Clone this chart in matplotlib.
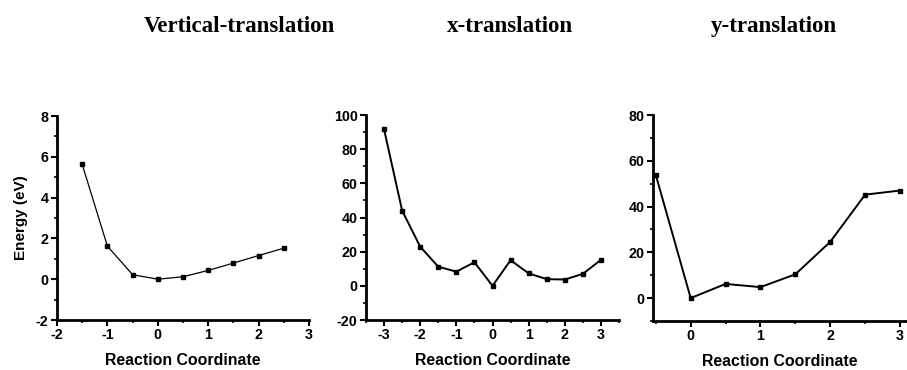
import matplotlib
matplotlib.use("Agg")
import matplotlib.pyplot as plt
from matplotlib.ticker import MultipleLocator

titles = ["Vertical-translation", "x-translation", "y-translation"]

x_vert = [-1.5, -1.0, -0.5, 0.0, 0.5, 1.0, 1.5, 2.0, 2.5]
e_vert = [5.63, 1.62, 0.22, 0.0, 0.12, 0.43, 0.79, 1.16, 1.52]

x_xt = [-3.0, -2.5, -2.0, -1.5, -1.0, -0.5, 0.0, 0.5, 1.0, 1.5, 2.0, 2.5, 3.0]
e_xt = [91.6, 44.0, 22.9, 11.2, 8.3, 13.8, 0.0, 15.0, 7.3, 3.9, 3.7, 7.0, 15.2]

x_yt = [-0.5, 0.0, 0.5, 1.0, 1.5, 2.0, 2.5, 3.0]
e_yt = [53.8, 0.0, 6.2, 4.8, 10.4, 24.6, 45.2, 47.0]

xlabel = "Reaction Coordinate"
ylabel = "Energy (eV)"

W, H = 907, 370
plt.rcParams['font.family'] = ['Liberation Sans', 'DejaVu Sans']
plt.rcParams['axes.unicode_minus'] = False
fig = plt.figure(figsize=(W / 100, H / 100), dpi=100)

def add_ax(x0, x1, y0, y1):
    return fig.add_axes([x0 / W, 1 - y1 / H, (x1 - x0) / W, (y1 - y0) / H])

panels = [
    dict(box=(57, 309, 116, 320), x=x_vert, y=e_vert, xlim=(-2, 3), ylim=(-2, 8),
         ymaj=2, ymin=1, xmaj=1, xmin=0.5, lw=0.9, title_x=239),
    dict(box=(366, 619, 115, 320), x=x_xt, y=e_xt, xlim=(-3.5, 3.5), ylim=(-20, 100),
         ymaj=20, ymin=10, xmaj=1, xmin=0.5, lw=1.4, title_x=510),
    dict(box=(653, 907, 115, 321), x=x_yt, y=e_yt, xlim=(-0.54, 3.1), ylim=(-10, 80),
         ymaj=20, ymin=10, xmaj=1, xmin=0.5, lw=1.4, title_x=774),
]

for i, p in enumerate(panels):
    x0, x1, y0, y1 = p['box']
    ax = add_ax(x0, x1, y0, y1)
    ax.plot(p['x'], p['y'], color='black', lw=p['lw'], marker='s', ms=3.5,
            clip_on=False)
    ax.set_xlim(*p['xlim'])
    ax.set_ylim(*p['ylim'])
    ax.xaxis.set_major_locator(MultipleLocator(p['xmaj']))
    ax.xaxis.set_minor_locator(MultipleLocator(p['xmin']))
    ax.yaxis.set_major_locator(MultipleLocator(p['ymaj']))
    ax.yaxis.set_minor_locator(MultipleLocator(p['ymin']))
    for s in ['top', 'right']:
        ax.spines[s].set_visible(False)
    for s in ['left', 'bottom']:
        ax.spines[s].set_linewidth(2)
    ax.tick_params(which='major', direction='out', length=4, width=1.5,
                   labelsize=10.3, pad=2)
    ax.tick_params(which='minor', direction='out', length=2.5, width=1.2)
    for lab in ax.get_xticklabels() + ax.get_yticklabels():
        lab.set_fontweight('bold')
    ax.set_xlabel(xlabel, fontsize=11.4, fontweight='bold', labelpad=8)
    if i == 0:
        ax.set_ylabel(ylabel, fontsize=11, fontweight='bold', labelpad=6)
    fig.text(p['title_x'] / W, 1 - 32 / H, titles[i], ha='center', va='baseline',
             fontsize=16.5, fontweight='bold', family=['Liberation Serif', 'DejaVu Serif'])

fig.savefig("out.png", dpi=100)
